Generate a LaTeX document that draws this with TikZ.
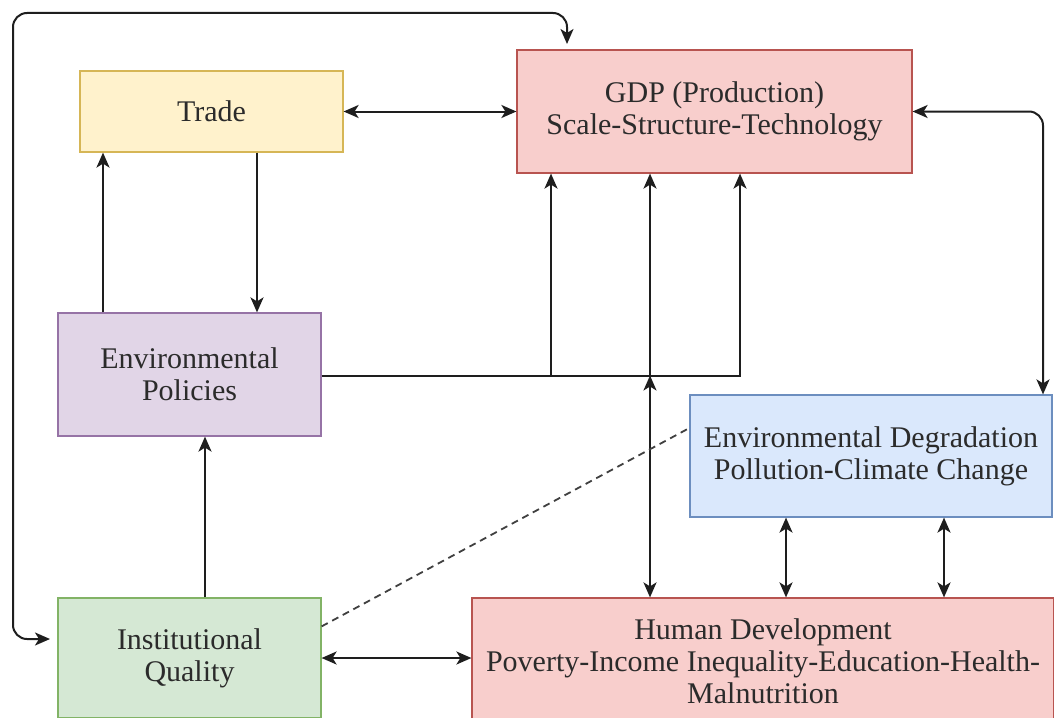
\documentclass[tikz,border=0pt]{standalone}
\usepackage{fontspec}
\setmainfont{Liberation Serif}
\usetikzlibrary{arrows.meta,calc}
\definecolor{txt}{HTML}{2B2B2B}
\definecolor{ln}{HTML}{1E1E1E}
\definecolor{trfill}{HTML}{FFF2CC}\definecolor{trdraw}{HTML}{D6B656}
\definecolor{gdpfill}{HTML}{F8CECC}\definecolor{gdpdraw}{HTML}{B85450}
\definecolor{epfill}{HTML}{E1D5E7}\definecolor{epdraw}{HTML}{9673A6}
\definecolor{edfill}{HTML}{DAE8FC}\definecolor{eddraw}{HTML}{6C8EBF}
\definecolor{iqfill}{HTML}{D5E8D4}\definecolor{iqdraw}{HTML}{82B366}
\begin{document}
\begin{tikzpicture}[x=1pt,y=-1pt,
  box/.style={draw, line width=1.2pt, inner sep=0pt, align=center, text=txt,
    font=\fontsize{30}{32}\selectfont},
  tip/.tip={Stealth[length=15pt,width=13pt,inset=4pt]},
  conn/.style={line width=2pt, draw=ln},
  arr/.style={conn, -tip},
  darr/.style={conn, tip-tip},
  dline/.style={line width=1.8pt, draw=ln!85, dash pattern=on 7pt off 5pt}
]
\useasboundingbox (0,0) rectangle (1054,717);
\clip (0,0) rectangle (1054,717);
\fill[white] (0,0) rectangle (1054,717);

\node[box, fill=trfill, draw=trdraw, minimum width=263pt, minimum height=81pt] (trade) at (211.5,111.5) {Trade};
\node[box, fill=gdpfill, draw=gdpdraw, minimum width=395pt, minimum height=123pt] (gdp) at (714.5,111.5) {GDP (Production)\\Scale-Structure-Technology};
\node[box, fill=epfill, draw=epdraw, minimum width=263pt, minimum height=123pt] (ep) at (189.5,374.5) {Environmental\\Policies};
\node[box, fill=edfill, draw=eddraw, minimum width=362pt, minimum height=122pt] (ed) at (871,456) {Environmental Degradation\\Pollution-Climate Change};
\node[box, fill=iqfill, draw=iqdraw, minimum width=263pt, minimum height=120pt] (iq) at (189.5,658) {Institutional\\Quality};
\node[box, fill=gdpfill, draw=gdpdraw, minimum width=582pt, minimum height=126pt] (hd) at (763,661) {Human Development\\Poverty-Income Inequality-Education-Health-\\Malnutrition};

% loop from institutional quality to GDP
\coordinate (la) at (50,639);
\coordinate (lb) at (567,44);
\draw[darr, rounded corners=14pt] (la) -| (13,13) -| (lb);

% trade <-> gdp
\draw[darr] (trade.east) -- (gdp.west |- trade.east);
% trade -> policies, policies -> trade
\draw[arr] ([xshift=45.5pt]trade.south) -- ([xshift=45.5pt]trade.south |- ep.north);
\draw[arr] ([xshift=-86.5pt]ep.north) -- ([xshift=-86.5pt]ep.north |- trade.south);
% institutional -> policies
\draw[arr] ([xshift=15.5pt]iq.north) -- ([xshift=15.5pt]iq.north |- ep.south);
% policies -> gdp
\coordinate (j1) at (551,375.5);
\coordinate (j2) at (650,375.5);
\draw[arr] (ep.east |- j1) -| ([xshift=25.5pt]gdp.south);
\draw[arr] (j1) -- (j1 |- gdp.south);
% human development <-> gdp
\draw[darr] (hd.north -| j2) -- (j2);
\draw[arr] (j2) -- (j2 |- gdp.south);
% gdp <-> degradation
\draw[darr, rounded corners=14pt] (gdp.east) -| (ed.north -| 1043,0);
% degradation <-> human development
\draw[darr] (ed.south -| 786,0) -- (hd.north -| 786,0);
\draw[darr] (ed.south -| 944,0) -- (hd.north -| 944,0);
% institutional <-> human development
\draw[darr] (iq.east) -- (hd.west |- iq.east);
% dashed
\draw[dline] ([yshift=-29pt]iq.north east) -- ([yshift=28pt]ed.west);
\end{tikzpicture}
\end{document}
